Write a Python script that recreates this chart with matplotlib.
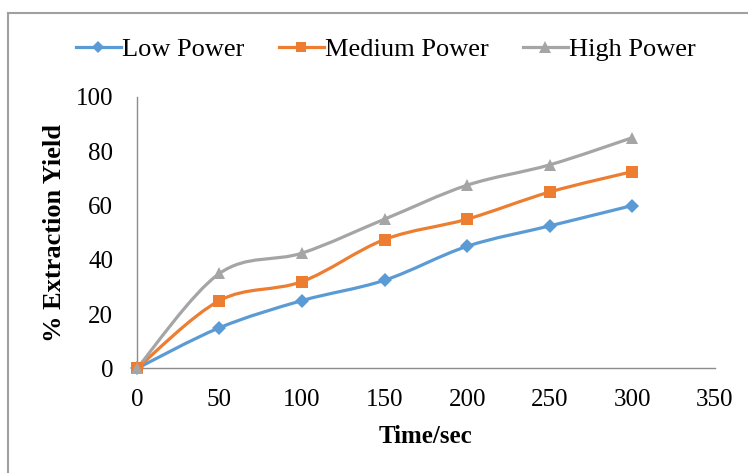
import matplotlib
matplotlib.use("Agg")
import matplotlib.pyplot as plt
from matplotlib.path import Path
from matplotlib.patches import PathPatch
from matplotlib.lines import Line2D
import numpy as np

time_sec = [0, 50, 100, 150, 200, 250, 300]
low_power = [0, 15, 25, 32.5, 45, 52.5, 60]
medium_power = [0, 25, 32, 47.5, 55, 65, 72.5]
high_power = [0, 35, 42.5, 55, 67.5, 75, 85]

series_names = ["Low Power", "Medium Power", "High Power"]
colors = ["#5B9BD5", "#ED7D31", "#A5A5A5"]
markers = ["D", "s", "^"]
marker_sizes = [7, 8.5, 9]

x_ticks = [0, 50, 100, 150, 200, 250, 300, 350]
y_ticks = [0, 20, 40, 60, 80, 100]

plt.rcParams["font.family"] = ["Liberation Serif", "DejaVu Serif"]

fig = plt.figure(figsize=(7.48, 4.73), dpi=100)
ax = fig.add_axes([0.183, 0.221, 0.7727, 0.574])


def smooth_path(xs, ys):
    """Cubic Bezier path through the points, spreadsheet-style smoothing."""
    pts = np.column_stack([xs, ys]).astype(float)
    n = len(pts)
    verts = [pts[0]]
    codes = [Path.MOVETO]
    for i in range(n - 1):
        p0 = pts[i - 1] if i > 0 else pts[i]
        p1 = pts[i]
        p2 = pts[i + 1]
        p3 = pts[i + 2] if i + 2 < n else pts[i + 1]
        c1 = p1 + (p2 - p0) / 6.0
        c2 = p2 - (p3 - p1) / 6.0
        verts.extend([c1, c2, p2])
        codes.extend([Path.CURVE4] * 3)
    return Path(verts, codes)


handles = []
for name, vals, col, mk, ms in zip(series_names,
                                   [low_power, medium_power, high_power],
                                   colors, markers, marker_sizes):
    patch = PathPatch(smooth_path(time_sec, vals), facecolor="none",
                      edgecolor=col, lw=2.3, capstyle="round",
                      joinstyle="round", zorder=2)
    ax.add_patch(patch)
    ax.plot(time_sec, vals, linestyle="none", marker=mk, markersize=ms,
            color=col, markeredgewidth=0, zorder=3, clip_on=False)
    handles.append(Line2D([0], [0], color=col, lw=2.3, marker=mk,
                          markersize=ms * 0.9, markeredgewidth=0))

ax.set_xlim(0, 350)
ax.set_ylim(0, 100)
ax.set_xticks(x_ticks)
ax.set_yticks(y_ticks)
ax.tick_params(axis="both", length=0, labelsize=18, colors="#000000")
ax.tick_params(axis="x", pad=15)
ax.tick_params(axis="y", pad=17)

for side in ["top", "right"]:
    ax.spines[side].set_visible(False)
for side in ["left", "bottom"]:
    ax.spines[side].set_color("#8C8C8C")
    ax.spines[side].set_linewidth(1.0)

ax.set_xlabel("Time/sec", fontsize=18, fontweight="bold", labelpad=10)
ax.set_ylabel("% Extraction Yield", fontsize=19, fontweight="bold",
              labelpad=7)

fig.legend(handles, series_names, loc="center", bbox_to_anchor=(0.516, 0.896),
           ncol=3, frameon=False, fontsize=19, handlelength=1.7,
           handletextpad=0.05, columnspacing=1.3)

# Chart frame (top and left edges)
fig.add_artist(Line2D([8 / 748, 1.0], [1 - 13 / 473, 1 - 13 / 473],
                      transform=fig.transFigure, color="#A0A0A0", lw=1.5))
fig.add_artist(Line2D([8 / 748, 8 / 748], [0.0, 1 - 13 / 473],
                      transform=fig.transFigure, color="#A0A0A0", lw=1.5))

fig.savefig("out.png", dpi=100)
